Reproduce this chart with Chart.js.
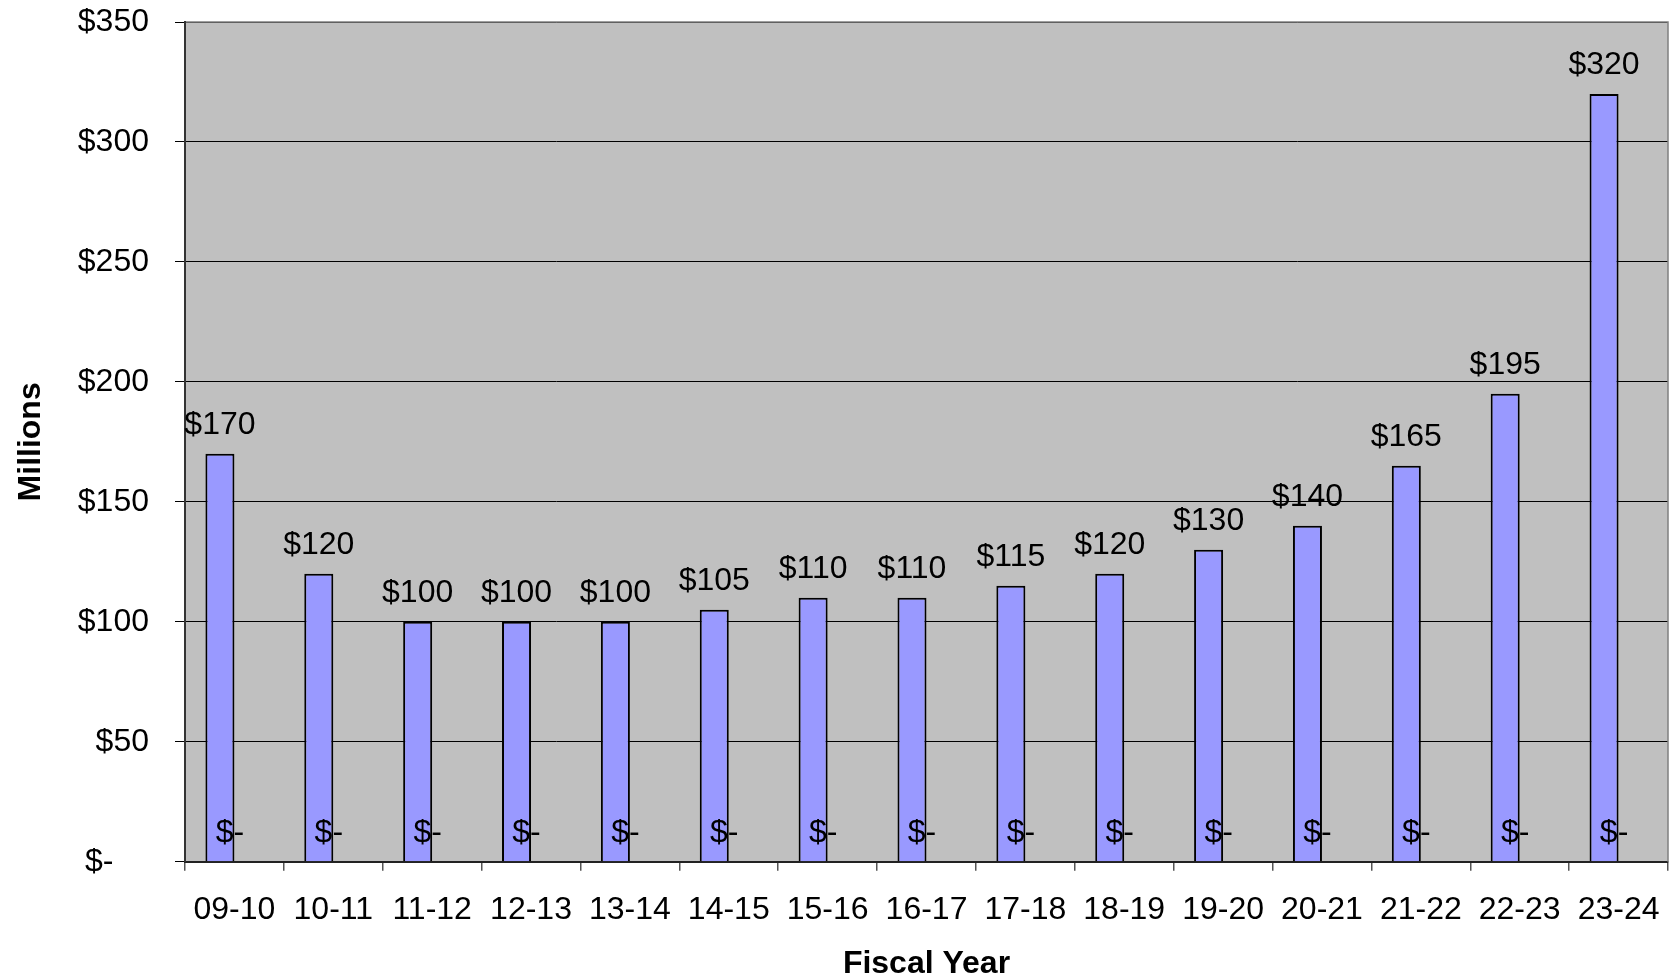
<!DOCTYPE html>
<html>
<head>
<meta charset="utf-8">
<script src="https://cdn.jsdelivr.net/npm/chart.js@4.4.1/dist/chart.umd.min.js"></script>
<style>
  html, body { margin: 0; padding: 0; background: #ffffff; }
  #wrap { width: 1669px; height: 980px; }
</style>
</head>
<body>
<div id="wrap"><canvas id="c" width="1669" height="980"></canvas></div>
<script>
const categories = ["09-10","10-11","11-12","12-13","13-14","14-15","15-16","16-17","17-18","18-19","19-20","20-21","21-22","22-23","23-24"];
const seriesValues = [170, 120, 100, 100, 100, 105, 110, 110, 115, 120, 130, 140, 165, 195, 320];
const seriesZero = [0, 0, 0, 0, 0, 0, 0, 0, 0, 0, 0, 0, 0, 0, 0];
const yTicks = [0, 50, 100, 150, 200, 250, 300, 350];

const FONT = "'Liberation Sans', Arial, sans-serif";

const plotBg = {
  id: 'plotBg',
  beforeDraw(chart) {
    const {ctx, chartArea: a} = chart;
    ctx.save();
    ctx.fillStyle = '#C0C0C0';
    ctx.fillRect(a.left, a.top, a.right - a.left, a.bottom - a.top);
    ctx.restore();
  },
  afterDraw(chart) {
    const {ctx, chartArea: a} = chart;
    ctx.save();
    ctx.strokeStyle = '#808080';
    ctx.lineWidth = 1.5;
    ctx.beginPath();
    ctx.moveTo(a.left + 1, a.top);
    ctx.lineTo(a.right, a.top);
    ctx.lineTo(a.right, a.bottom);
    ctx.stroke();
    ctx.restore();
  }
};

const valueLabels = {
  id: 'valueLabels',
  afterDatasetsDraw(chart) {
    const {ctx} = chart;
    ctx.save();
    ctx.font = '32px ' + FONT;
    ctx.fillStyle = '#000';
    ctx.textAlign = 'center';
    ctx.textBaseline = 'alphabetic';
    const m0 = chart.getDatasetMeta(0);
    m0.data.forEach((bar, i) => {
      ctx.fillText('$' + chart.data.datasets[0].data[i], bar.x, bar.y - 20);
    });
    const m1 = chart.getDatasetMeta(1);
    m1.data.forEach((bar, i) => {
      const v = chart.data.datasets[1].data[i];
      ctx.fillText(v === 0 ? '$-' : '$' + v, bar.x - 19, bar.y - 20);
    });
    ctx.restore();
  }
};

new Chart(document.getElementById('c'), {
  type: 'bar',
  data: {
    labels: categories,
    datasets: [
      {
        label: 'Series 1',
        data: seriesValues,
        backgroundColor: '#9999FF',
        borderColor: '#000000',
        borderWidth: 2,
        categoryPercentage: 0.587,
        barPercentage: 1.0
      },
      {
        label: 'Series 2',
        data: seriesZero,
        backgroundColor: 'rgba(0,0,0,0)',
        borderWidth: 0,
        categoryPercentage: 0.587,
        barPercentage: 1.0
      }
    ]
  },
  options: {
    responsive: false,
    devicePixelRatio: 1,
    animation: false,
    layout: { padding: { top: 22, right: 1, left: 0, bottom: 0 } },
    plugins: {
      legend: { display: false },
      tooltip: { enabled: false }
    },
    scales: {
      x: {
        offset: true,
        grid: {
          offset: true,
          drawOnChartArea: false,
          drawTicks: true,
          tickLength: 9,
          color: '#555555',
          lineWidth: 1.5
        },
        border: { display: true, color: '#222222', width: 2 },
        ticks: {
          color: '#000',
          font: { family: FONT, size: 32 },
          padding: 20,
          maxRotation: 0,
          autoSkip: false
        },
        title: {
          display: true,
          text: 'Fiscal Year',
          color: '#000',
          font: { family: FONT, size: 32, weight: 'bold', lineHeight: 1 },
          padding: { top: 0, bottom: 0 }
        },
        afterFit(scale) {
          scale.height = 118.3;
          scale.paddingLeft = 0;
          scale.paddingRight = 0;
        }
      },
      y: {
        min: 0,
        max: 350,
        afterBuildTicks(scale) { scale.ticks = yTicks.map(v => ({ value: v })); },
        grid: {
          color: '#000000',
          lineWidth: 1,
          drawTicks: true,
          tickLength: 10
        },
        border: { display: true, color: '#333333', width: 2 },
        ticks: {
          color: '#000',
          font: { family: FONT, size: 32 },
          padding: 26,
          callback: (v) => v === 0 ? '$-    ' : '$' + v
        },
        title: {
          display: true,
          text: 'Millions',
          color: '#000',
          font: { family: FONT, size: 32, weight: 'bold', lineHeight: 1 },
          padding: { top: 15, bottom: 0 }
        },
        afterFit(scale) {
          scale.width = 185;
          scale.paddingTop = 0;
          scale.paddingBottom = 0;
        }
      }
    }
  },
  plugins: [plotBg, valueLabels]
});
</script>
</body>
</html>
